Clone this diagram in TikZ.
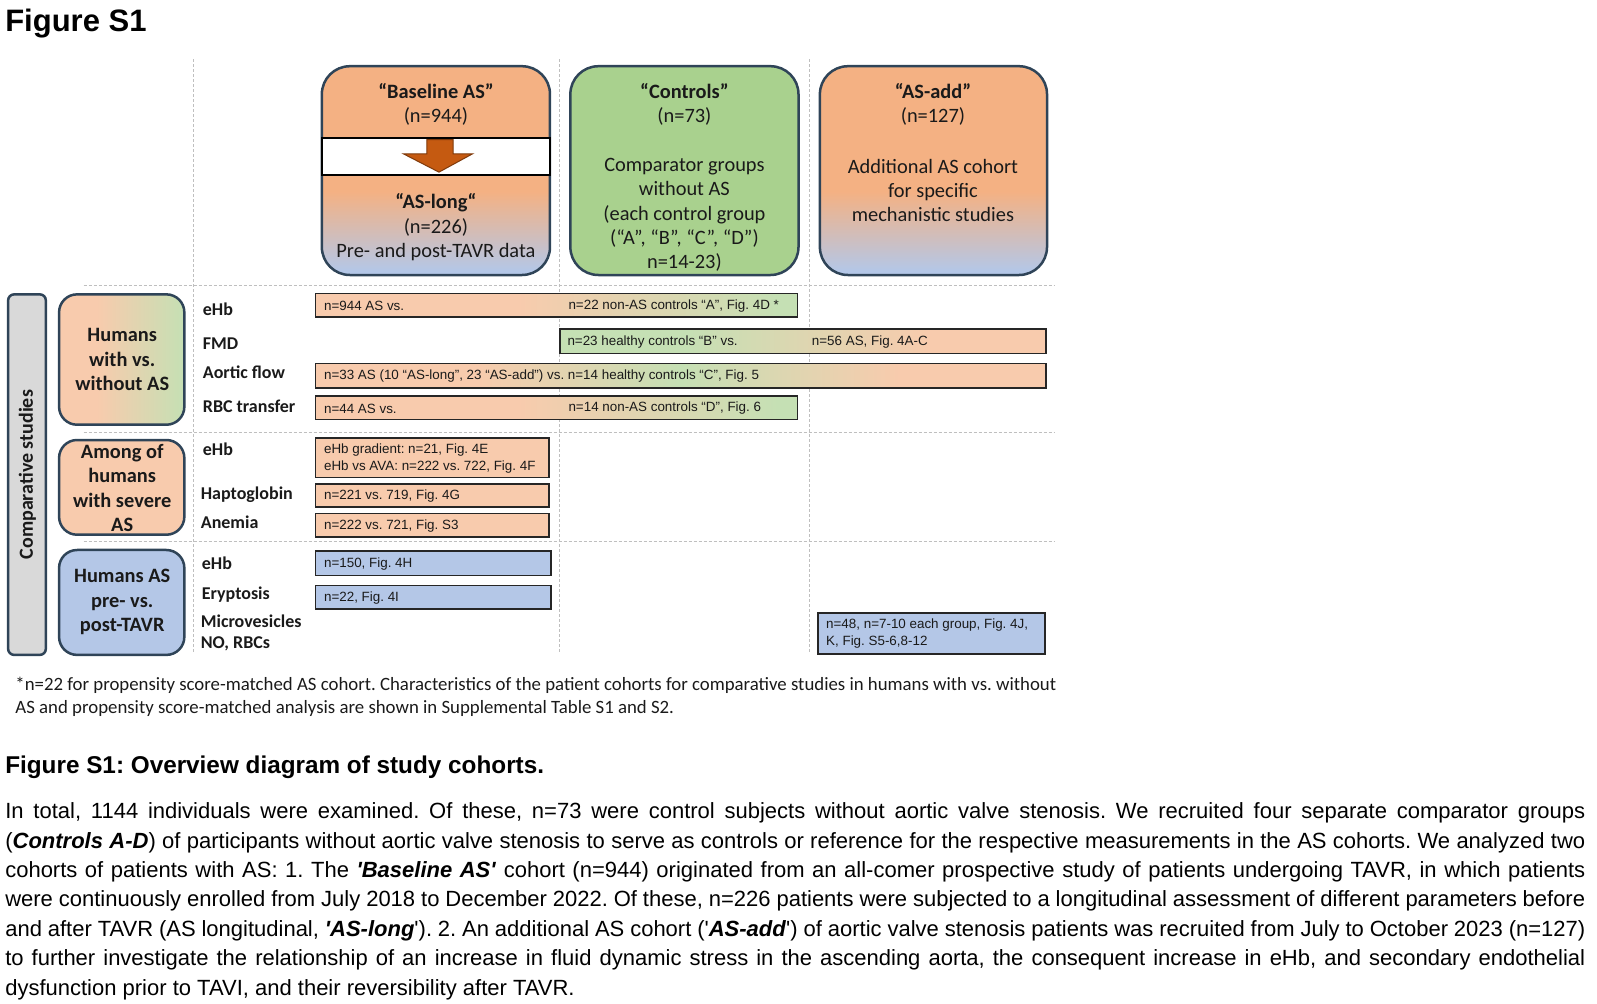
\documentclass[tikz,border=0pt]{standalone}
\usepackage{fontspec}
\setmainfont{Carlito}
\newfontfamily\arialf{Liberation Sans}
\definecolor{topor}{HTML}{F4B183}
\definecolor{topbl}{HTML}{B4C7E7}
\definecolor{ctrlgr}{HTML}{A9D18E}
\definecolor{bord}{HTML}{2F4458}
\definecolor{paleor}{HTML}{F8CBAD}
\definecolor{palegr}{HTML}{C5E0B4}
\definecolor{palebl}{HTML}{B4C7E7}
\definecolor{arrowor}{HTML}{C55A11}
\definecolor{arrowdk}{HTML}{7F3A0B}
\definecolor{dashg}{HTML}{BFBFBF}
\definecolor{compg}{HTML}{D9D9D9}
\definecolor{bardark}{HTML}{262626}
\definecolor{txtc}{HTML}{1A1A1A}
\pgfdeclareverticalshading{asfade}{100bp}{color(0bp)=(topbl); color(26bp)=(topbl); color(45bp)=(topor); color(100bp)=(topor)}
\pgfdeclarehorizontalshading{ogfade}{100bp}{color(0bp)=(paleor); color(46bp)=(paleor); color(73bp)=(palegr); color(100bp)=(palegr)}
\pgfdeclarehorizontalshading{gofade}{100bp}{color(0bp)=(palegr); color(38bp)=(palegr); color(63bp)=(paleor); color(100bp)=(paleor)}
\pgfdeclarehorizontalshading{ogofade}{100bp}{color(0bp)=(paleor); color(36bp)=(paleor); color(50bp)=(palegr); color(65bp)=(paleor); color(100bp)=(paleor)}
\pgfdeclarehorizontalshading{grpfade}{100bp}{color(0bp)=(paleor); color(40bp)=(paleor); color(75bp)=(palegr); color(100bp)=(palegr)}
\tikzset{
  dashline/.style={draw=dashg, line width=1pt, dash pattern=on 3pt off 2pt},
  bigbox/.style={draw=bord, line width=2.5pt, rounded corners=28pt},
  grpbox/.style={draw=bord, line width=2.5pt, rounded corners=18pt},
  barbox/.style={draw=bardark, line width=1.5pt},
  bartxt/.style={anchor=west, inner sep=0pt, text=txtc, font=\arialf\fontsize{13.4}{17}\selectfont, align=left},
  rowlab/.style={anchor=west, inner sep=0pt, text=txtc, font=\bfseries\fontsize{18}{21.4}\selectfont, align=left},
  boxtxt/.style={align=center, inner sep=0pt, text=txtc, font=\fontsize{20.4}{24.4}\selectfont},
  grptxt/.style={align=center, inner sep=0pt, text=txtc, font=\bfseries\fontsize{20.4}{24.4}\selectfont},
  partxt/.style={anchor=base west, inner sep=0pt, font=\arialf\fontsize{22}{29}\selectfont},
  foottxt/.style={anchor=base west, inner sep=0pt, text=txtc, font=\fontsize{18.8}{23}\selectfont},
}
\begin{document}
\frenchspacing
\begin{tikzpicture}[x=1.0185pt,y=-1.0185pt]
\useasboundingbox (0,0) rectangle (1568,984.8);
% title
\node[anchor=base west, inner sep=0pt, font=\arialf\bfseries\fontsize{31}{34}\selectfont] (title) at (5,31) {Figure S1};
% grid
\draw[dashline] (190,58) -- (190,642);
\draw[dashline] (549,58) -- (549,642);
\draw[dashline] (795,58) -- (795,642);
\draw[dashline] (82,280) -- (1035,280);
\draw[dashline] (82,425) -- (1035,425);
\draw[dashline] (82,532) -- (1035,532);
% top boxes
\path[bigbox, shading=asfade] (316,65) rectangle (540,270);
\path[draw=black, line width=2pt, fill=white] (316,135) rectangle (540,172);
\path[draw=arrowdk, line width=1pt, fill=arrowor] (419,137) -- (445,137) -- (445,151) -- (464,151) -- (431,169) -- (396,151) -- (419,151) -- cycle;
\path[bigbox, fill=ctrlgr] (560,65) rectangle (784,270);
\path[bigbox, shading=asfade] (805,65) rectangle (1028,270);
\node[boxtxt] (bl1) at (428,102.5) {\textbf{“Baseline AS”}\\(n=944)};
\node[boxtxt] (bl2) at (428,223) {\textbf{“AS-long“}\\(n=226)\\Pre- and post-TAVR data};
\node[boxtxt] (ct1) at (672,102.5) {\textbf{“Controls”}\\(n=73)};
\node[boxtxt] (ct2) at (672,211) {Comparator groups\\without AS\\(each control group\\(“A”, “B”, “C”, “D”)\\n=14-23)};
\node[boxtxt] (ad1) at (916,102.5) {\textbf{“AS-add”}\\(n=127)};
\node[boxtxt] (ad2) at (916,187) {Additional AS cohort\\for specific\\mechanistic studies};
% left column
\path[draw=bord, line width=2.5pt, rounded corners=6pt, fill=compg] (8,289) rectangle (45,643);
\node[rotate=90, inner sep=0pt, text=txtc, font=\bfseries\fontsize{20}{24}\selectfont] (comp) at (27,466) {Comparative studies};
\path[grpbox, shading=grpfade] (58,289) rectangle (181,417);
\path[grpbox, fill=paleor] (58,432) rectangle (181,525);
\path[grpbox, fill=palebl] (58,540) rectangle (181,643);
\node[grptxt] (g1) at (120,353) {Humans\\with vs.\\without AS};
\node[grptxt] (g2) at (120,479) {Among of\\humans\\with severe\\AS};
\node[grptxt] (g3) at (120,591) {Humans AS\\pre- vs.\\post-TAVR};
% row labels
\node[rowlab] (r1) at (199,303.5) {eHb};
\node[rowlab] (r2) at (199,337) {FMD};
\node[rowlab] (r3) at (199,365) {Aortic flow};
\node[rowlab] (r4) at (199,399) {RBC transfer};
\node[rowlab] (r5) at (199,441) {eHb};
\node[rowlab] (r6) at (197,486) {Haptoglobin};
\node[rowlab] (r7) at (197,513) {Anemia};
\node[rowlab] (r8) at (198,553) {eHb};
\node[rowlab] (r9) at (198,584) {Eryptosis};
\node[rowlab] (r10) at (197,621.5) {Microvesicles\\NO, RBCs};
% bars
\path[barbox, shading=ogfade] (310,288) rectangle (783,311);
\node[bartxt] (b1a) at (318,300) {n=944 AS vs.};
\node[bartxt] (b1b) at (558,300) {n=22 non-AS controls “A”, Fig. 4D *};
\path[barbox, shading=gofade] (550,323) rectangle (1027,347);
\node[bartxt] (b2a) at (557,335.5) {n=23 healthy controls “B” vs.};
\node[bartxt] (b2b) at (797,335.5) {n=56 AS, Fig. 4A-C};
\path[barbox, shading=ogofade] (310,357) rectangle (1027,381);
\node[bartxt] (b3) at (318,369.5) {n=33 AS (10 “AS-long”, 23 “AS-add”) vs. n=14 healthy controls “C”, Fig. 5};
\path[barbox, shading=ogfade] (310,389) rectangle (783,412);
\node[bartxt] (b4a) at (318,401) {n=44 AS vs.};
\node[bartxt] (b4b) at (558,401) {n=14 non-AS controls “D”, Fig. 6};
\path[barbox, fill=paleor] (310,430) rectangle (539,469);
\node[bartxt] (b5) at (318,450) {eHb gradient: n=21, Fig. 4E\\eHb vs AVA: n=222 vs. 722, Fig. 4F};
\path[barbox, fill=paleor] (310,475) rectangle (539,498);
\node[bartxt] (b6) at (318,487) {n=221 vs. 719, Fig. 4G};
\path[barbox, fill=paleor] (310,504) rectangle (539,527);
\node[bartxt] (b7) at (318,516) {n=222 vs. 721, Fig. S3};
\path[barbox, fill=palebl] (310,541) rectangle (541,565);
\node[bartxt] (b8) at (318,553.5) {n=150, Fig. 4H};
\path[barbox, fill=palebl] (310,575) rectangle (541,598);
\node[bartxt] (b9) at (318,587) {n=22, Fig. 4I};
\path[barbox, fill=palebl] (803,602) rectangle (1026,642);
\node[bartxt] (b10) at (811,622.5) {n=48, n=7-10 each group, Fig. 4J,\\K, Fig. S5-6,8-12};
% footnote
\node[foottxt] (f1) at (15,678) {*n=22 for propensity score-matched AS cohort. Characteristics of the patient cohorts for comparative studies in humans with vs. without};
\node[foottxt] (f2) at (15,701) {AS and propensity score-matched analysis are shown in Supplemental Table S1 and S2.};
% caption
\node[anchor=base west, inner sep=0pt, font=\arialf\bfseries\fontsize{24.3}{28}\selectfont] (cap) at (5,759) {Figure S1: Overview diagram of study cohorts.};
% paragraph
\node[partxt] (p1) at (5,804) {\makebox[1580pt][s]{In total, 1144 individuals were examined. Of these, n=73 were control subjects without aortic valve stenosis. We recruited four separate comparator groups}};
\node[partxt] (p2) at (5,833) {\makebox[1580pt][s]{(\textbf{\textit{Controls A-D}}) of participants without aortic valve stenosis to serve as controls or reference for the respective measurements in the AS cohorts. We analyzed two}};
\node[partxt] (p3) at (5,862) {\makebox[1580pt][s]{cohorts of patients with AS: 1. The \textbf{\textit{'Baseline AS'}} cohort (n=944) originated from an all-comer prospective study of patients undergoing TAVR, in which patients}};
\node[partxt] (p4) at (5,890) {\makebox[1580pt][s]{were continuously enrolled from July 2018 to December 2022. Of these, n=226 patients were subjected to a longitudinal assessment of different parameters before}};
\node[partxt] (p5) at (5,919) {\makebox[1580pt][s]{and after TAVR (AS longitudinal, \textbf{\textit{'AS-long}}'). 2. An additional AS cohort ('\textbf{\textit{AS-add}}') of aortic valve stenosis patients was recruited from July to October 2023 (n=127)}};
\node[partxt] (p6) at (5,948) {\makebox[1580pt][s]{to further investigate the relationship of an increase in fluid dynamic stress in the ascending aorta, the consequent increase in eHb, and secondary endothelial}};
\node[partxt] (p7) at (5,977) {dysfunction prior to TAVI, and their reversibility after TAVR.};
\end{tikzpicture}
\end{document}
